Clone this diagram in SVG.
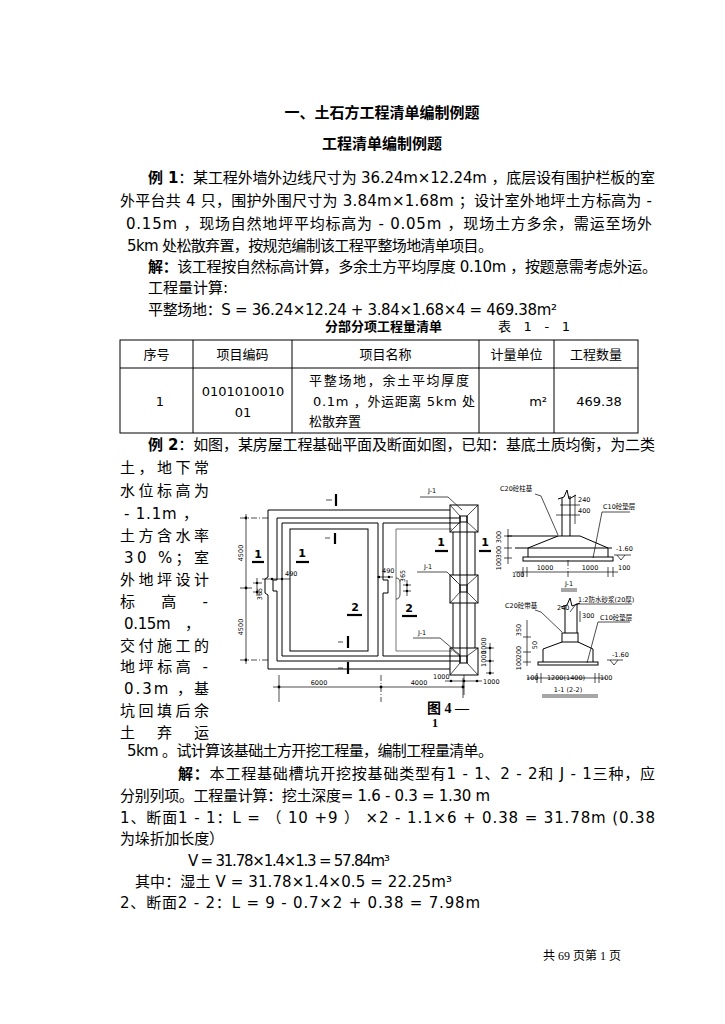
<svg xmlns="http://www.w3.org/2000/svg" width="725" height="1024" viewBox="0 0 725 1024">
<style>
.tx{font-family:"DejaVu Sans","Noto Sans CJK SC",sans-serif;font-size:15px;fill:#000}
.b{font-weight:bold}
.tb{font-family:"DejaVu Sans","Noto Sans CJK SC",sans-serif;font-size:13px;fill:#000}
.sm{font-family:"DejaVu Sans","Noto Sans CJK SC",sans-serif;font-size:6.5px;fill:#000}
.lb{font-family:"DejaVu Sans",sans-serif;font-size:11px;font-weight:bold;fill:#000}
.ln{stroke:#000;stroke-width:1;fill:none}
.th{stroke:#000;stroke-width:0.7;fill:none}
.gr{stroke:#777;stroke-width:1;fill:none}
.dd{stroke:#000;stroke-width:0.7;fill:none;stroke-dasharray:6 2 1 2}
.tk{stroke:#000;stroke-width:2.2;fill:none}
.dot{fill:#000}
</style>
<rect width="725" height="1024" fill="#fff"/>

<g id="titles">
<text class="tx b" x="382" y="118" font-size="16" text-anchor="middle">一、土石方工程清单编制例题</text>
<text class="tx b" x="382" y="149" font-size="17" text-anchor="middle">工程清单编制例题</text>
</g>

<g id="example1">
<text class="tx" x="148" y="183" textLength="507" lengthAdjust="spacing"><tspan class="b">例 1</tspan>：某工程外墙外边线尺寸为 36.24m×12.24m ，底层设有围护栏板的室</text>
<text class="tx" x="120" y="206" textLength="532" lengthAdjust="spacing">外平台共 4 只，围护外围尺寸为 3.84m×1.68m ；设计室外地坪土方标高为 -</text>
<text class="tx" x="126" y="229" textLength="526" lengthAdjust="spacing">0.15m ，现场自然地坪平均标高为 -  0.05m ，现场土方多余，需运至场外</text>
<text class="tx" x="127" y="251" textLength="366" lengthAdjust="spacing">5km 处松散弃置，按规范编制该工程平整场地清单项目。</text>
<text class="tx" x="148" y="272" textLength="509" lengthAdjust="spacing"><tspan class="b">解：</tspan>该工程按自然标高计算，多余土方平均厚度 0.10m ，按题意需考虑外运。</text>
<text class="tx" x="148" y="293">工程量计算:</text>
<text class="tx" x="148" y="315" textLength="409" lengthAdjust="spacing">平整场地：S = 36.24×12.24 + 3.84×1.68×4 = 469.38m²</text>
</g>

<g id="table">
<text class="tb b" x="325" y="331" textLength="117" lengthAdjust="spacing">分部分项工程量清单</text>
<text class="tb" x="498" y="331" textLength="72" lengthAdjust="spacing">表  1 - 1</text>
<rect x="120" y="340" width="518" height="93" class="ln"/>
<path class="ln" d="M120,368 H638 M193,340 V433 M292,340 V433 M479,340 V433 M554,340 V433"/>
<text class="tb" x="156.5" y="359" text-anchor="middle">序号</text>
<text class="tb" x="242.5" y="359" text-anchor="middle">项目编码</text>
<text class="tb" x="385.5" y="359" text-anchor="middle">项目名称</text>
<text class="tb" x="516.5" y="359" text-anchor="middle">计量单位</text>
<text class="tb" x="596" y="359" text-anchor="middle">工程数量</text>
<text class="tb" x="160" y="406" text-anchor="middle">1</text>
<text class="tb" x="243" y="396" text-anchor="middle">0101010010</text>
<text class="tb" x="243" y="417" text-anchor="middle">01</text>
<text class="tb" x="309" y="385" textLength="160" lengthAdjust="spacing">平整场地，余土平均厚度</text>
<text class="tb" x="313" y="406" textLength="162" lengthAdjust="spacing">0.1m ，外运距离   5km 处</text>
<text class="tb" x="309" y="426">松散弃置</text>
<text class="tb" x="547" y="406" text-anchor="end">m²</text>
<text class="tb" x="599" y="406" text-anchor="middle">469.38</text>
</g>

<g id="example2">
<text class="tx" x="148" y="450" textLength="507" lengthAdjust="spacing"><tspan class="b">例 2</tspan>：如图，某房屋工程基础平面及断面如图，已知：基底土质均衡，为二类</text>
<text class="tx" x="120" y="473" textLength="89" lengthAdjust="spacing">土，地下常</text>
<text class="tx" x="120" y="496" textLength="89" lengthAdjust="spacing">水位标高为</text>
<text class="tx" x="124" y="519" textLength="74" lengthAdjust="spacing">-  1.1m ，</text>
<text class="tx" x="120" y="541" textLength="89" lengthAdjust="spacing">土方含水率</text>
<text class="tx" x="124" y="563" textLength="85" lengthAdjust="spacing">30 %；室</text>
<text class="tx" x="120" y="585" textLength="89" lengthAdjust="spacing">外地坪设计</text>
<text class="tx" x="120" y="607" textLength="88" lengthAdjust="spacing">标　高　-</text>
<text class="tx" x="124" y="629" textLength="76" lengthAdjust="spacing">0.15m　，</text>
<text class="tx" x="120" y="651" textLength="89" lengthAdjust="spacing">交付施工的</text>
<text class="tx" x="120" y="672" textLength="88" lengthAdjust="spacing">地坪标高 -</text>
<text class="tx" x="124" y="694" textLength="85" lengthAdjust="spacing">0.3m ，基</text>
<text class="tx" x="120" y="716" textLength="89" lengthAdjust="spacing">坑回填后余</text>
<text class="tx" x="120" y="738" textLength="89" lengthAdjust="spacing">土　弃　运</text>
<text class="tx" x="127" y="756" textLength="366" lengthAdjust="spacing">5km 。试计算该基础土方开挖工程量，编制工程量清单。</text>
<text class="tx" x="178" y="779" textLength="477" lengthAdjust="spacing"><tspan class="b">解：</tspan>本工程基础槽坑开挖按基础类型有1 - 1、2 - 2和 J - 1三种，应</text>
<text class="tx" x="120" y="801" textLength="370" lengthAdjust="spacing">分别列项。工程量计算：挖土深度= 1.6 - 0.3 = 1.30 m</text>
<text class="tx" x="120" y="823" textLength="535" lengthAdjust="spacing">1、断面1 - 1：L = （ 10 +9 ） ×2 - 1.1×6 + 0.38 = 31.78m (0.38</text>
<text class="tx" x="120" y="844" textLength="104" lengthAdjust="spacing">为垛折加长度）</text>
<text class="tx" x="188" y="866" textLength="202" lengthAdjust="spacing">V = 31.78×1.4×1.3 = 57.84m³</text>
<text class="tx" x="135" y="887" textLength="317" lengthAdjust="spacing">其中：湿土  V = 31.78×1.4×0.5 = 22.25m³</text>
<text class="tx" x="120" y="908" textLength="360" lengthAdjust="spacing">2、断面2 - 2：L = 9 - 0.7×2 + 0.38 = 7.98m</text>
</g>

<g id="plan">
<path class="ln" d="M450,510 H268 V577 L265,579 V593 L268,595 V669 H450"/>
<path class="ln" d="M460,518 H277 V580 H273 V591 H277 V661 H460"/>
<path class="ln" d="M378,523 H282 V656 H378 Z"/>
<path class="ln" d="M460,523 H383 V580 H388 V593 H383 V656 H460"/>
<rect class="ln" x="290" y="529" width="78" height="122"/>
<path class="gr" d="M452,529 H396 V651 H452"/>
<path class="ln" d="M453,532 V575 M453,603 V648 M475,532 V575 M475,603 V648"/>
<path class="ln" d="M460,516 V663 M467,516 V663"/>
<g id="pad-top">
<rect class="ln" x="450" y="505" width="28" height="27" fill="#fff"/>
<rect class="ln" x="460" y="516" width="7" height="6"/>
<path class="th" d="M450,505 L460,516 M478,505 L467,516 M450,532 L460,522 M478,532 L467,522"/>
</g>
<g id="pad-mid">
<rect class="ln" x="450" y="575" width="28" height="28" fill="#fff"/>
<rect class="ln" x="460" y="585" width="7" height="7"/>
<path class="th" d="M450,575 L460,585 M478,575 L467,585 M450,603 L460,592 M478,603 L467,592"/>
</g>
<g id="pad-bot">
<rect class="ln" x="450" y="648" width="28" height="27" fill="#fff"/>
<rect class="ln" x="460" y="656" width="7" height="7"/>
<path class="th" d="M450,648 L460,656 M478,648 L467,656 M450,675 L460,663 M478,675 L467,663"/>
</g>
<g id="dims-plan">
<path class="th" d="M246,514 V664 M240,588 H252"/>
<path class="dd" d="M240,518 H268 M240,660 H268"/>
<circle class="dot" cx="246" cy="518" r="1.4"/><circle class="dot" cx="246" cy="588" r="1.4"/><circle class="dot" cx="246" cy="660" r="1.4"/>
<text class="sm" transform="translate(243,553) rotate(-90)" text-anchor="middle">4500</text>
<text class="sm" transform="translate(243,627) rotate(-90)" text-anchor="middle">4500</text>
<path class="th" d="M257,578 V596 M253,583 H262 M253,592 H262 M262,579 H290"/>
<circle class="dot" cx="257" cy="583" r="1.2"/><circle class="dot" cx="257" cy="592" r="1.2"/>
<circle class="dot" cx="272" cy="579" r="1.2"/><circle class="dot" cx="282" cy="579" r="1.2"/>
<text class="sm" transform="translate(262,594) rotate(-90)" text-anchor="middle">365</text>
<text class="sm" x="285" y="576">490</text>
<path class="th" d="M377,577 H393 M407,580 V596 M403,585 H411 M403,591 H411 M396,578 Q400,578 400,583 V594 Q400,599 396,599"/>
<circle class="dot" cx="379" cy="577" r="1.2"/><circle class="dot" cx="389" cy="577" r="1.2"/>
<circle class="dot" cx="407" cy="585" r="1.2"/><circle class="dot" cx="407" cy="591" r="1.2"/>
<text class="sm" x="382" y="573">490</text>
<text class="sm" transform="translate(405,576) rotate(-90)" text-anchor="middle">365</text>
<path class="th" d="M273,687 H463 M279,675 V702 M463,678 V698"/>
<path class="dd" d="M381,675 V702"/>
<circle class="dot" cx="279" cy="687" r="1.4"/><circle class="dot" cx="381" cy="687" r="1.4"/><circle class="dot" cx="463" cy="687" r="1.4"/>
<text class="sm" x="319" y="685" text-anchor="middle">6000</text>
<text class="sm" x="419" y="685" text-anchor="middle">4000</text>
<path class="th" d="M445,681 H482 M464,675 V695"/>
<circle class="dot" cx="451" cy="681" r="1.3"/><circle class="dot" cx="464" cy="681" r="1.3"/><circle class="dot" cx="477" cy="681" r="1.3"/>
<text class="sm" x="433" y="679">1000</text>
<text class="sm" x="483" y="684">1000</text>
<path class="th" d="M490,643 V675 M486,648 H494 M486,661 H494 M486,673 H494"/>
<circle class="dot" cx="490" cy="648" r="1.3"/><circle class="dot" cx="490" cy="661" r="1.3"/><circle class="dot" cx="490" cy="673" r="1.3"/>
<text class="sm" transform="translate(486,667) rotate(-90)">1000</text>
<text class="sm" transform="translate(486,654) rotate(-90)">1000</text>
</g>
<g id="section-marks">
<path class="th" d="M326,500 H332 M325,538 H330 M338,642 H343 M338,668 H343"/>
<path class="tk" d="M336,494 V506 M335,533 V544 M348,636 V648 M348,662 V674"/>
<text class="lb" x="258" y="558" text-anchor="middle">1</text><path class="tk" d="M252,562 H264"/>
<text class="lb" x="302" y="557" text-anchor="middle">1</text><path class="tk" d="M296,562 H309"/>
<text class="lb" x="441" y="546" text-anchor="middle">1</text><path class="tk" d="M435,551 H448"/>
<text class="lb" x="485" y="546" text-anchor="middle">1</text><path class="tk" d="M479,551 H491"/>
<text class="lb" x="355" y="611" text-anchor="middle">2</text><path class="tk" d="M347,615 H362"/>
<text class="lb" x="409" y="612" text-anchor="middle">2</text><path class="tk" d="M402,616 H417"/>
</g>
<text class="sm" x="428" y="493" font-size="6">J-1</text>
<text class="sm" x="424" y="569" font-size="6">J-1</text>
<text class="sm" x="418" y="635" font-size="6">J-1</text>
<text x="427" y="713" font-family="'Liberation Serif','Noto Sans CJK SC',serif" font-size="14" font-weight="bold">图 4 —</text>
<text x="432" y="727" font-family="'Liberation Serif',serif" font-size="12" font-weight="bold">1</text>
</g>

<g id="j1-section">
<path class="ln" d="M562,498 V536 M570,496 V536"/>
<path class="ln" d="M558,499 L564,497 L567,490 L569,499 L576,495"/>
<path class="th" d="M575,495 V524 M560,505 H580 M556,515 H580"/>
<text class="sm" x="578" y="502">240</text>
<text class="sm" x="578" y="513">400</text>
<path class="ln" d="M507,536 H580 M558,536 L528,548 V557 M580,536 L608,548 V557 M515,548 H612"/>
<rect class="ln" x="523" y="557" width="90" height="4"/>
<path class="th" d="M508,529 V564 M504,536 H512 M504,548 H512 M504,558 H512"/>
<text class="sm" transform="translate(501,537) rotate(-90)" text-anchor="middle">300</text>
<text class="sm" transform="translate(501,552) rotate(-90)" text-anchor="middle">300</text>
<text class="sm" transform="translate(501,564) rotate(-90)" text-anchor="middle">100</text>
<text class="sm" x="616" y="551">-1.60</text>
<path class="th" d="M614,555 H631 M617,555 L621,560 L625,555"/>
<path class="th" d="M515,572 H618 M523,567 V577 M527,567 V577 M608,567 V577 M613,567 V577"/>
<path class="dd" d="M568,560 V578"/>
<text class="sm" x="512" y="577">100</text>
<text class="sm" x="545" y="570" text-anchor="middle">1000</text>
<text class="sm" x="590" y="570" text-anchor="middle">1000</text>
<text class="sm" x="618" y="570">100</text>
<text class="sm" x="569" y="586" font-size="7" text-anchor="middle">J-1</text>
<path class="th" d="M561,589 H577 M561,591 H577"/>
<text class="sm" x="500" y="491">C20砼柱基</text>
<text class="sm" x="603" y="509">C10砼垫层</text>
</g>

<g id="s11-section">
<path class="ln" d="M565,606 V633 M577,604 V633"/>
<path class="ln" d="M561,607 L567,605 L570,598 L572,606 L580,603"/>
<rect class="ln" x="562" y="633" width="16" height="9"/>
<path class="ln" d="M562,642 L543,649 V662 M578,642 L593,649 V662"/>
<rect class="ln" x="538" y="662" width="60" height="3"/>
<path class="th" d="M527,620 V666 M523,637 H531 M523,652 H531 M523,662 H531 M580,611 V622"/>
<text class="sm" transform="translate(521,630) rotate(-90)" text-anchor="middle">350</text>
<text class="sm" transform="translate(537,645) rotate(-90)" text-anchor="middle">50</text>
<text class="sm" transform="translate(521,652) rotate(-90)" text-anchor="middle">200</text>
<text class="sm" transform="translate(521,664) rotate(-90)" text-anchor="middle">100</text>
<text class="sm" x="557" y="610">240</text>
<text class="sm" x="582" y="618">300</text>
<text class="sm" x="612" y="657">-1.60</text>
<path class="th" d="M607,660 H623 M610,660 L614,665 L618,660"/>
<path class="th" d="M527,678 H606 M537,673 V683 M541,673 V683 M595,673 V683 M599,673 V683"/>
<text class="sm" x="526" y="680">100</text>
<text class="sm" x="566" y="680" text-anchor="middle">1200(1400)</text>
<text class="sm" x="600" y="680">100</text>
<text class="sm" x="568" y="692" font-size="7" text-anchor="middle">1-1 (2-2)</text>
<path class="th" d="M542,695 H598 M542,697 H598"/>
<text class="sm" x="505" y="608">C20砼带基</text>
<text class="sm" x="578" y="602" font-size="6">1:2防水砂浆(20厚)</text>
<text class="sm" x="600" y="620">C10砼垫层</text>
</g>

<g id="connectors" class="th">
<path d="M420,497 H448 L462,510"/>
<path d="M417,572 H447 L457,582"/>
<path d="M413,638 H440 L460,655"/>
<path d="M535,494 L541,496 L558,535"/>
<path d="M602,512 H630 M602,512 L593,558"/>
<path d="M535,610 L541,612 L562,632"/>
<path d="M576,604 H632 M576,604 L570,612"/>
<path d="M598,622 H630 M598,622 L587,663"/>
</g>

<g id="footer">
<text x="582" y="960" font-family="'Liberation Serif','Noto Sans CJK SC',serif" font-size="12" text-anchor="middle">共 69 页第 1 页</text>
</g>
</svg>
